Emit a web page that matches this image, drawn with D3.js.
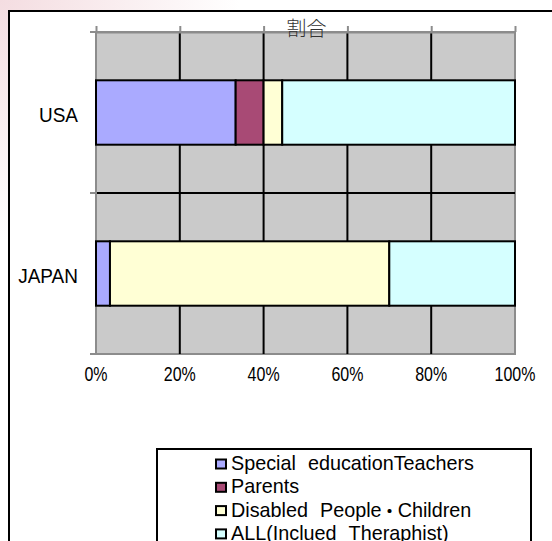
<!DOCTYPE html>
<html>
<head>
<meta charset="utf-8">
<script src="https://cdn.jsdelivr.net/npm/d3@7/dist/d3.min.js"></script>
<style>
  html, body { margin: 0; padding: 0; background: #fff; }
  svg { display: block; }
  text { font-family: "Liberation Sans", Arial, "Noto Sans CJK JP", sans-serif; }
</style>
</head>
<body>
<svg id="chart" width="552" height="541"></svg>
<script>
// Respondent counts per group (stacked to 100%)
const categories = ["USA", "JAPAN"];
const seriesNames = [
  "Special\u3000educationTeachers",
  "Parents",
  "Disabled\u3000People・Children",
  "ALL(Inclued\u3000Theraphist)"
];
const usaCounts = [15, 3, 2, 25];
const japanCounts = [1, 0, 20, 9];
const seriesColors = ["#AAAAFF", "#A84A75", "#FFFFD5", "#D5FFFF"];
const tickValues = [0, 0.2, 0.4, 0.6, 0.8, 1];
const tickLabels = ["0%", "20%", "40%", "60%", "80%", "100%"];
const chartTitle = "割合";

const svg = d3.select("#chart");

// faint tint around the chart frame
const defs = svg.append("defs");
const grad = defs.append("radialGradient").attr("id", "tint")
  .attr("gradientUnits", "userSpaceOnUse").attr("cx", 0).attr("cy", 0).attr("r", 240);
grad.append("stop").attr("offset", 0).attr("stop-color", "#f4dde1");
grad.append("stop").attr("offset", 1).attr("stop-color", "#ffffff");
svg.append("rect").attr("width", 552).attr("height", 541).attr("fill", "url(#tint)");

// chart frame
svg.append("rect").attr("x", 9).attr("y", 11).attr("width", 600).attr("height", 600)
  .attr("fill", "#fff").attr("stroke", "#000").attr("stroke-width", 2);

const rows = [usaCounts, japanCounts].map((counts, i) => {
  const r = { category: categories[i] };
  seriesNames.forEach((s, j) => r[s] = counts[j]);
  return r;
});

const stack = d3.stack().keys(seriesNames).offset(d3.stackOffsetExpand);
const layers = stack(rows);

const x = d3.scaleLinear().domain([0, 1]).range([96, 515]);
const y = d3.scaleBand().domain(categories).range([32, 354])
  .paddingInner(0.6).paddingOuter(0.3);
const color = d3.scaleOrdinal().domain(seriesNames).range(seriesColors);

const [plotTop, plotBottom] = y.range();
const boundaries = d3.range(categories.length + 1).map(i => plotTop + i * y.step());

// plot area background
svg.append("rect")
  .attr("x", x(0)).attr("y", plotTop)
  .attr("width", x(1) - x(0)).attr("height", plotBottom - plotTop)
  .attr("fill", "#CACACA").attr("stroke", "#8c8c8c").attr("stroke-width", 2);

// vertical gridlines
svg.append("g").selectAll("line")
  .data(tickValues.slice(1, -1))
  .join("line")
  .attr("x1", d => x(d)).attr("x2", d => x(d))
  .attr("y1", plotTop).attr("y2", plotBottom)
  .attr("stroke", "#000").attr("stroke-width", 2);

// category separator lines
svg.append("g").selectAll("line")
  .data(boundaries.slice(1, -1))
  .join("line")
  .attr("x1", x(0)).attr("x2", x(1))
  .attr("y1", d => d).attr("y2", d => d)
  .attr("stroke", "#000").attr("stroke-width", 2);

// value axis along the top
const topAxis = svg.append("g").attr("transform", `translate(0,${plotTop})`)
  .call(d3.axisTop(x).tickValues(tickValues).tickSize(6).tickSizeOuter(0).tickFormat(""));
topAxis.selectAll("path, line").attr("stroke", "#8c8c8c").attr("stroke-width", 2);

// category axis on the left
const leftAxis = svg.append("g");
leftAxis.append("line")
  .attr("x1", x(0)).attr("x2", x(0)).attr("y1", plotTop).attr("y2", plotBottom)
  .attr("stroke", "#8c8c8c").attr("stroke-width", 2);
leftAxis.selectAll("line.tick")
  .data(boundaries)
  .join("line").attr("class", "tick")
  .attr("x1", x(0) - 6).attr("x2", x(0))
  .attr("y1", d => d).attr("y2", d => d)
  .attr("stroke", "#8c8c8c").attr("stroke-width", 2);

// stacked bars
svg.append("g").selectAll("g")
  .data(layers)
  .join("g")
  .attr("fill", d => color(d.key))
  .selectAll("rect")
  .data(d => d.filter(p => p[1] - p[0] > 0))
  .join("rect")
  .attr("x", d => x(d[0]))
  .attr("y", d => y(d.data.category))
  .attr("width", d => x(d[1]) - x(d[0]))
  .attr("height", y.bandwidth())
  .attr("stroke", "#000").attr("stroke-width", 2);

// category labels
svg.append("g").selectAll("text")
  .data(categories)
  .join("text")
  .attr("transform", d => `translate(78,${y(d) + y.bandwidth() / 2 + 9.5}) scale(1,1.1)`)
  .attr("text-anchor", "end")
  .attr("font-size", 19)
  .attr("fill", "#000")
  .text(d => d);

// percentage labels
svg.append("g").selectAll("text")
  .data(tickValues)
  .join("text")
  .attr("transform", d => `translate(${x(d)},381) scale(1,1.3)`)
  .attr("text-anchor", "middle")
  .attr("font-size", 16)
  .attr("fill", "#000")
  .text((d, i) => tickLabels[i]);

// title
svg.append("text")
  .attr("x", 306.5).attr("y", 35.5)
  .attr("text-anchor", "middle")
  .attr("font-family", "'Noto Sans CJK JP', sans-serif")
  .attr("font-size", 20)
  .attr("font-weight", 300)
  .attr("fill", "#333")
  .text(chartTitle);

// legend
const legend = svg.append("g");
legend.append("rect")
  .attr("x", 157).attr("y", 449).attr("width", 374).attr("height", 200)
  .attr("fill", "#fff").attr("stroke", "#000").attr("stroke-width", 2);
const item = legend.selectAll("g.item")
  .data(seriesNames)
  .join("g").attr("class", "item")
  .attr("transform", (d, i) => `translate(216,${470 + i * 23.3})`);
item.append("rect")
  .attr("x", 0).attr("y", -10.5).attr("width", 10).attr("height", 9)
  .attr("fill", d => color(d)).attr("stroke", "#000").attr("stroke-width", 2);
// full-width separators are set narrower, as in the proportional font of the labels
item.append("text")
  .attr("x", 15).attr("y", 0)
  .attr("font-size", 19.8)
  .attr("fill", "#000")
  .selectAll("tspan")
  .data(d => d.split(/([\u3000・])/).filter(s => s.length))
  .join("tspan")
  .attr("font-size", s => s === "\u3000" ? 12 : s === "・" ? 16 : null)
  .attr("font-weight", s => s === "・" ? 700 : null)
  .text(s => s);
</script>
</body>
</html>
